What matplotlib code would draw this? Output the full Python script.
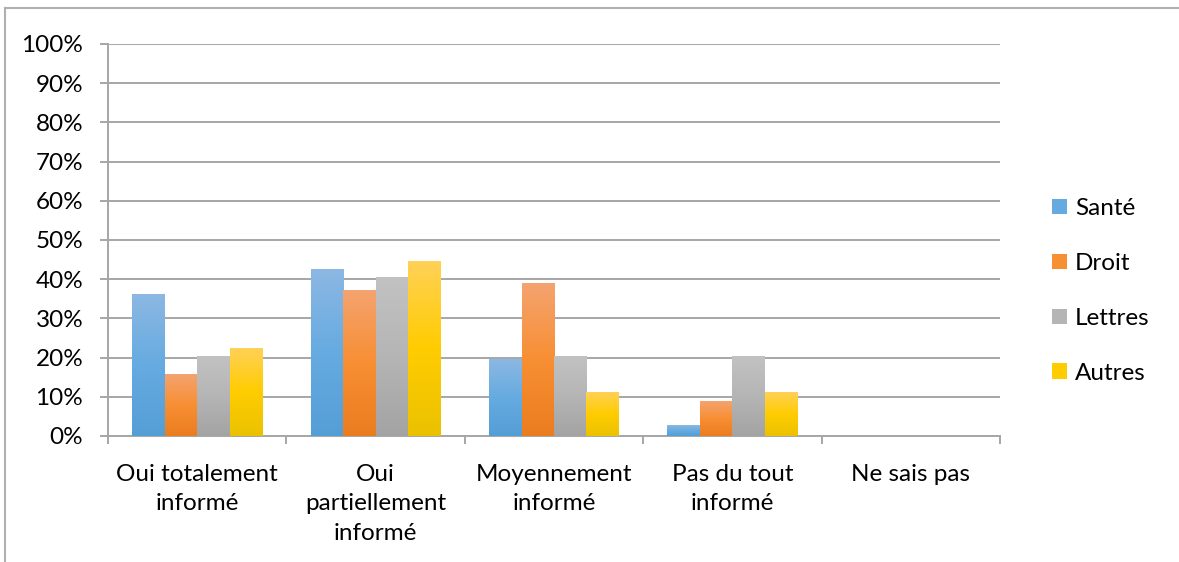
import numpy as np
import matplotlib
matplotlib.use("Agg")
import matplotlib.pyplot as plt
from matplotlib.colors import LinearSegmentedColormap
from matplotlib.lines import Line2D
from matplotlib.patches import Rectangle

categories = ["Oui totalement\ninformé", "Oui\npartiellement\ninformé",
              "Moyennement\ninformé", "Pas du tout\ninformé", "Ne sais pas"]
series_names = ["Santé", "Droit", "Lettres", "Autres"]
sante = [36.2, 42.6, 19.6, 2.6, 0]
droit = [15.8, 37.2, 39.0, 8.7, 0]
lettres = [20.3, 40.4, 20.2, 20.2, 0]
autres = [22.4, 44.6, 11.2, 11.2, 0]
y_ticks = [0, 10, 20, 30, 40, 50, 60, 70, 80, 90, 100]
y_labels = [f"{v}%" for v in y_ticks]

# gradient colours (top, middle, bottom)
grads = [
    [(0.55, 0.72, 0.89), (0.40, 0.67, 0.88), (0.33, 0.62, 0.84)],
    [(0.96, 0.64, 0.44), (0.97, 0.56, 0.20), (0.92, 0.49, 0.12)],
    [(0.76, 0.76, 0.76), (0.71, 0.71, 0.71), (0.64, 0.64, 0.64)],
    [(1.00, 0.82, 0.34), (1.00, 0.80, 0.00), (0.92, 0.76, 0.00)],
]

plt.rcParams['font.family'] = ['Lato', 'DejaVu Sans']
FS = 17.5

W, H = 1179, 562
fig = plt.figure(figsize=(W / 100, H / 100), dpi=100)
ax = fig.add_axes([108 / W, 1 - 436 / H, (1000 - 108) / W, (436 - 44) / H])

data = [sante, droit, lettres, autres]
n = len(categories)
x = np.arange(n)
bw = 0.182
for i, (vals, g) in enumerate(zip(data, grads)):
    offs = (i - 1.5) * bw
    bars = ax.bar(x + offs, vals, width=bw, color='none', edgecolor='none',
                  label=series_names[i], zorder=3)
    cmap = LinearSegmentedColormap.from_list(f"g{i}", [g[2], g[1], g[0]])
    for b in bars:
        h = b.get_height()
        if h <= 0:
            continue
        grad = np.linspace(0, 1, 256).reshape(-1, 1)
        ax.imshow(grad, cmap=cmap, origin='lower', aspect='auto',
                  extent=[b.get_x(), b.get_x() + b.get_width(), 0, h],
                  zorder=3, interpolation='bilinear')

ax.set_xlim(-0.5, n - 0.5)
ax.set_ylim(0, 100)
ax.set_yticks(y_ticks)
ax.set_yticklabels(y_labels, fontsize=FS)
ax.yaxis.grid(True, color='#a6a6a6', linewidth=1.4, zorder=0)
ax.set_axisbelow(True)
ax.set_xticks(np.arange(n + 1) - 0.5)
ax.set_xticklabels([])
ax.set_xticks(x, minor=True)
ax.set_xticklabels(categories, minor=True, fontsize=FS, linespacing=1.5)
ax.tick_params(axis='x', which='minor', length=0, pad=20)
ax.tick_params(axis='x', which='major', length=5.8, color='#a6a6a6', width=1.4)
ax.tick_params(axis='y', length=5.8, color='#a6a6a6', width=1.4, pad=12)
for s in ['top', 'right']:
    ax.spines[s].set_visible(False)
for s in ['left', 'bottom']:
    ax.spines[s].set_color('#a6a6a6')
    ax.spines[s].set_linewidth(1.4)

# legend
handles = [Rectangle((0, 0), 1, 1, facecolor=g[1], edgecolor='none') for g in grads]
leg = fig.legend(handles, series_names, loc='center left',
                 bbox_to_anchor=(1040 / W, 1 - 291 / H), frameon=False,
                 fontsize=FS, handlelength=0.6, handleheight=0.6,
                 handletextpad=0.35, labelspacing=1.39, borderpad=0)

# outer frame
fig.add_artist(Line2D([5 / W, 5 / W], [0, 1 - 8 / H], transform=fig.transFigure,
                      color='#b0b0b0', linewidth=1.5))
fig.add_artist(Line2D([5 / W, 1], [1 - 8 / H, 1 - 8 / H], transform=fig.transFigure,
                      color='#b0b0b0', linewidth=1.5))

fig.savefig("out.png", dpi=100)
